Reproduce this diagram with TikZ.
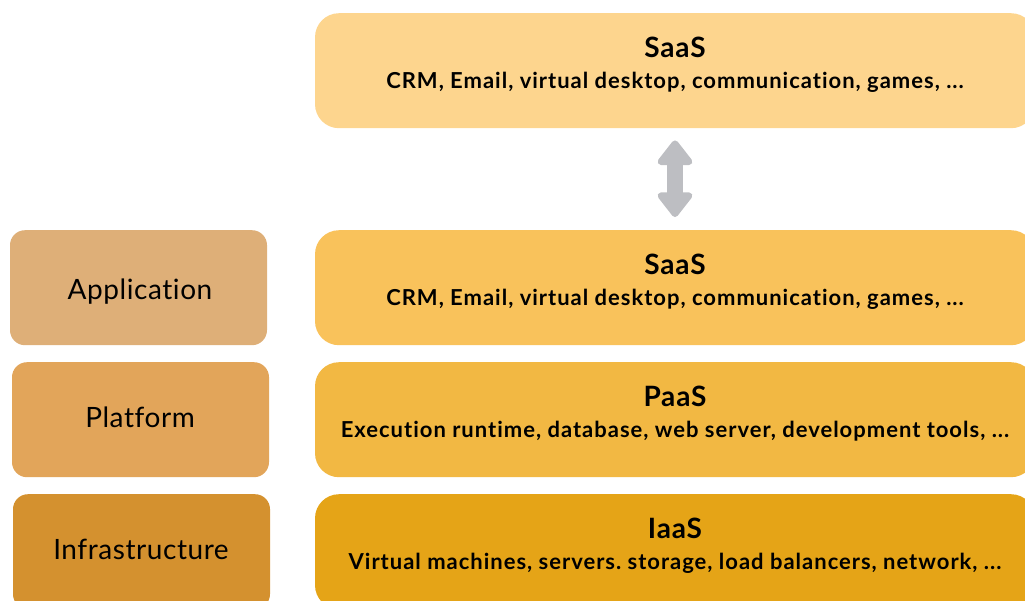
\documentclass[tikz,border=0pt]{standalone}
\usepackage{fontspec}
\setmainfont{Lato}
\newfontfamily\subfont[LetterSpace=4.5,Ligatures=NoCommon]{Lato}
\newfontfamily\ttlfont[LetterSpace=3,Ligatures=NoCommon]{Lato}
\newfontfamily\lblfont[LetterSpace=2,Ligatures=NoCommon]{Lato}
\frenchspacing
\usetikzlibrary{arrows.meta}
\definecolor{cTop}{HTML}{FDD58E}
\definecolor{cSaaS}{HTML}{F9C25B}
\definecolor{cPaaS}{HTML}{F2B843}
\definecolor{cIaaS}{HTML}{E5A417}
\definecolor{cApp}{HTML}{DEAF78}
\definecolor{cPlat}{HTML}{E2A55A}
\definecolor{cInf}{HTML}{D4912F}
\definecolor{cArrow}{HTML}{BDBEC2}
\tikzset{
  layer/.style={rounded corners=24pt, minimum width=720pt, minimum height=115pt, inner sep=0pt, anchor=north},
  side/.style={rounded corners=15pt, minimum width=257pt, minimum height=115pt, inner sep=0pt, anchor=north},
  ttl/.style={font=\ttlfont\fontsize{28}{32}\selectfont\bfseries, inner sep=0pt},
  sub/.style={font=\subfont\fontsize{22}{26}\selectfont\bfseries, inner sep=0pt},
  lbl/.style={font=\lblfont\fontsize{28}{32}\selectfont, inner sep=0pt},
  dbl/.style={draw=cArrow, line width=16pt, {Triangle[round,width=40pt,length=27pt]}-{Triangle[round,width=40pt,length=27pt]}}
}
\begin{document}
\begin{tikzpicture}[x=1pt,y=-1pt]
\useasboundingbox (0,0) rectangle (1025,600);
\clip (0,0) rectangle (1025,600);
% right layers
\node[layer, fill=cTop] (top) at (675,13) {};
\node[layer, fill=cSaaS] (saas) at (675,230) {};
\node[layer, fill=cPaaS] (paas) at (675,362) {};
\node[layer, fill=cIaaS] (iaas) at (675,494) {};
% left labels
\node[side, fill=cApp] (app) at (138.5,230) {};
\node[side, fill=cPlat] (plat) at (140.5,362) {};
\node[side, fill=cInf] (inf) at (141.5,494) {};
% texts
\node[ttl] (t1) at (675,47) {SaaS};
\node[sub] (s1) at (675,82) {CRM, Email, virtual desktop, communication, games, ...};
\node[ttl] (t2) at (675,264) {SaaS};
\node[sub] (s2) at (675,299) {CRM, Email, virtual desktop, communication, games, ...};
\node[ttl] (t3) at (675,396) {PaaS};
\node[sub] (s3) at (675,431) {Execution runtime, database, web server, development tools, ...};
\node[ttl] (t4) at (675,528) {IaaS};
\node[sub] (s4) at (675,563) {Virtual machines, servers. storage, load balancers, network, ...};
\node[lbl] (l1) at (140,292) {Application};
\node[lbl] (l2) at (140,417) {Platform};
\node[lbl] (l3) at (141,549) {Infrastructure};
% arrow
\draw[dbl] ([yshift=-12pt]top.south) -- ([yshift=13pt]saas.north);
\end{tikzpicture}
\end{document}
